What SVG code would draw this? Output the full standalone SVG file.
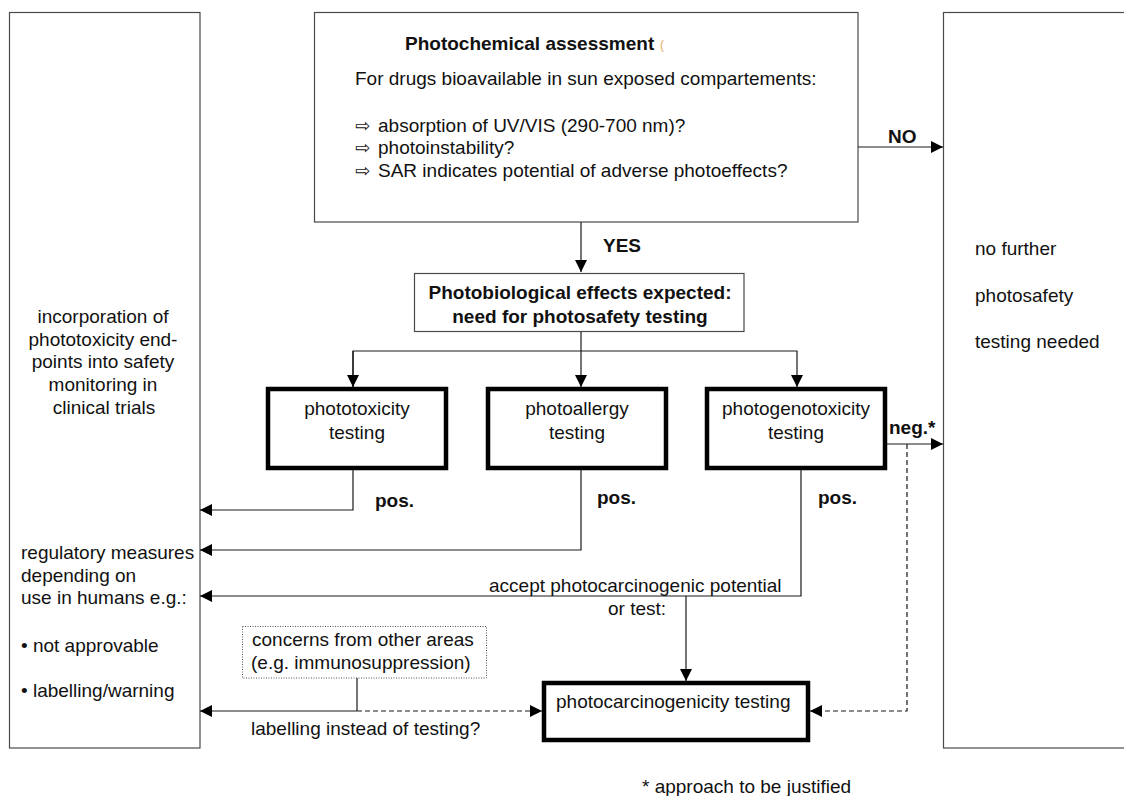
<svg xmlns="http://www.w3.org/2000/svg" width="1124" height="796" viewBox="0 0 1124 796">
  <style>
    text { font-family: "Liberation Sans", Arial, "DejaVu Sans", sans-serif; font-size: 19px; fill: #111; }
    .b { font-weight: bold; }
    .c { text-anchor: middle; }
    .sym { font-family: "DejaVu Sans", sans-serif; font-size: 18px; }
    .box { fill: #fff; stroke: #4a4a4a; stroke-width: 1.2; }
    .thick { fill: #fff; stroke: #000; stroke-width: 4.5; }
    .dotbox { fill: #fff; stroke: #555; stroke-width: 1; stroke-dasharray: 1 1.5; }
    .ln { fill: none; stroke: #1a1a1a; stroke-width: 1.2; }
    .dash { fill: none; stroke: #1a1a1a; stroke-width: 1.2; stroke-dasharray: 5 3; }
  </style>
  <defs>
    <marker id="arr" markerUnits="userSpaceOnUse" markerWidth="12" markerHeight="12" refX="12" refY="6" orient="auto">
      <path d="M0,0 L12,6 L0,12 z" fill="#000"/>
    </marker>
  </defs>
  <rect width="1124" height="796" fill="#fff"/>

  <!-- side columns -->
  <g id="clinical">
    <rect class="box" x="9.5" y="12.5" width="190.5" height="735.5"/>
    <text class="c" x="103" y="323">incorporation of</text>
    <text class="c" x="103" y="346">phototoxicity end-</text>
    <text class="c" x="103" y="368">points into safety</text>
    <text class="c" x="103" y="391">monitoring in</text>
    <text class="c" x="104" y="414">clinical trials</text>
    <text x="21" y="559">regulatory measures</text>
    <text x="21" y="582">depending on</text>
    <text x="21" y="604">use in humans e.g.:</text>
    <text x="21" y="652">• not approvable</text>
    <text x="21" y="697">• labelling/warning</text>
  </g>

  <g id="no-testing">
    <rect class="box" x="943.5" y="12.5" width="200" height="735.5"/>
    <text x="975" y="255">no further</text>
    <text x="975" y="302">photosafety</text>
    <text x="975" y="348">testing needed</text>
  </g>

  <!-- decision boxes -->
  <g id="photochemical">
    <rect class="box" x="314.5" y="12.5" width="543.5" height="209.5"/>
    <text class="b" x="405" y="50">Photochemical assessment</text>
    <text x="660" y="49" style="font-size:12px;fill:#e8a860">(</text>
    <text x="355" y="85">For drugs bioavailable in sun exposed compartements:</text>
    <text x="355" y="132"><tspan class="sym">⇨</tspan><tspan x="378">absorption of UV/VIS (290-700 nm)?</tspan></text>
    <text x="355" y="154"><tspan class="sym">⇨</tspan><tspan x="378">photoinstability?</tspan></text>
    <text x="355" y="177"><tspan class="sym">⇨</tspan><tspan x="378">SAR indicates potential of adverse photoeffects?</tspan></text>
  </g>

  <g id="photobiological">
    <rect class="box" x="414.5" y="273.5" width="329.5" height="58"/>
    <text class="b c" x="580" y="299">Photobiological effects expected:</text>
    <text class="b c" x="580" y="323">need for photosafety testing</text>
  </g>

  <g id="phototoxicity">
    <rect class="thick" x="268" y="389" width="178" height="79"/>
    <text class="c" x="357" y="415">phototoxicity</text>
    <text class="c" x="357" y="439">testing</text>
  </g>

  <g id="photoallergy">
    <rect class="thick" x="488" y="389" width="178" height="79"/>
    <text class="c" x="577" y="415">photoallergy</text>
    <text class="c" x="577" y="439">testing</text>
  </g>

  <g id="photogenotoxicity">
    <rect class="thick" x="707" y="389" width="178" height="79"/>
    <text class="c" x="796" y="415">photogenotoxicity</text>
    <text class="c" x="796" y="439">testing</text>
  </g>

  <g id="concerns">
    <rect class="dotbox" x="242.5" y="626.5" width="244" height="51.5"/>
    <text x="252" y="646">concerns from other areas</text>
    <text x="251" y="669">(e.g. immunosuppression)</text>
  </g>

  <g id="photocarcinogenicity">
    <rect class="thick" x="544" y="683" width="264" height="57"/>
    <text x="556" y="708">photocarcinogenicity testing</text>
  </g>

  <!-- connectors -->
  <g id="connectors">
    <line class="ln" x1="858" y1="147" x2="943" y2="147" marker-end="url(#arr)"/>
    <line class="ln" x1="581" y1="222" x2="581" y2="272" marker-end="url(#arr)"/>
    <line class="ln" x1="581" y1="332" x2="581" y2="387" marker-end="url(#arr)"/>
    <polyline class="ln" points="353,387 353,351 797,351 797,387" marker-end="url(#arr)"/>
    <line class="ln" x1="353" y1="351" x2="353" y2="387" marker-end="url(#arr)"/>
    <polyline class="ln" points="353,470 353,510 200,510" marker-end="url(#arr)"/>
    <polyline class="ln" points="581,470 581,550 200,550" marker-end="url(#arr)"/>
    <polyline class="ln" points="801,470 801,596 200,596" marker-end="url(#arr)"/>
    <line class="ln" x1="686" y1="596" x2="686" y2="681" marker-end="url(#arr)"/>
    <line class="ln" x1="887" y1="444" x2="943" y2="444" marker-end="url(#arr)"/>
    <polyline class="dash" points="907,444 907,711 810,711" marker-end="url(#arr)"/>
    <line class="ln" x1="357" y1="678" x2="357" y2="711"/>
    <line class="ln" x1="357" y1="711" x2="200" y2="711" marker-end="url(#arr)"/>
    <line class="dash" x1="357" y1="711" x2="542" y2="711" marker-end="url(#arr)"/>
  </g>

  <!-- connector labels -->
  <g id="labels">
    <text class="b" x="888" y="143">NO</text>
    <text class="b" x="603" y="252">YES</text>
    <text class="b" x="375" y="507">pos.</text>
    <text class="b" x="597" y="504">pos.</text>
    <text class="b" x="818" y="504">pos.</text>
    <text class="b" x="889" y="434">neg.*</text>
    <text x="489" y="592">accept photocarcinogenic potential</text>
    <text x="608" y="615">or test:</text>
    <text x="251" y="735">labelling instead of testing?</text>
    <text x="642" y="793">* approach to be justified</text>
  </g>
</svg>
